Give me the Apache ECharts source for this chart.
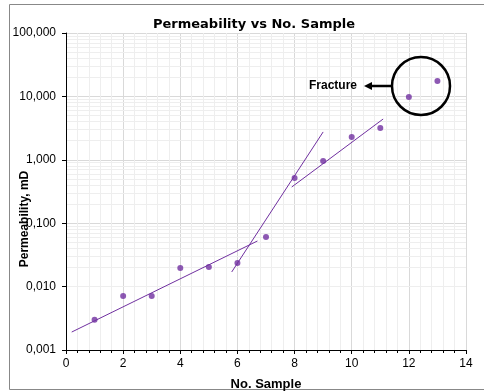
<!DOCTYPE html>
<html>
<head>
<meta charset="utf-8">
<script src="https://cdn.jsdelivr.net/npm/echarts@6/dist/echarts.min.js"></script>
<style>
  html, body { margin: 0; padding: 0; background: #fff; }
  #chart { width: 484px; height: 391px; }
</style>
</head>
<body>
<div id="chart"></div>
<script>
// sample number vs permeability (mD)
const samples = [1, 2, 3, 4, 5, 6, 7, 8, 9, 10, 11, 12, 13]
const permeability = [0.003, 0.0071, 0.0071, 0.0196, 0.0204, 0.0236, 0.0606, 0.516, 0.957, 2.29, 3.17, 9.8, 17.5]

// hand drawn trend segments (start, end)
const trendLow = [[0.2, 0.00192], [6.7, 0.0524]]
const trendMid = [[5.8, 0.017], [9.0, 2.75]]
const trendHigh = [[7.9, 0.372], [11.1, 4.4]]

// log minor grid levels (2..9 in each decade)
const minorLevels = []
for (const d of [0.001, 0.01, 0.1, 1, 10]) {
  for (let k = 2; k <= 9; k++) minorLevels.push(+(d * k).toPrecision(3))
}

const purple = "#7030a0"
const font = "Liberation Sans"

const chart = echarts.init(document.getElementById("chart"))

const option = {
  animation: false,
  backgroundColor: "#fff",
  title: {
    text: "Permeability vs No. Sample",
    left: 249,
    textAlign: "center",
    top: 13,
    textStyle: { fontFamily: "DejaVu Sans", fontSize: 13, fontWeight: "bold", color: "#000" },
  },
  grid: { left: 66, right: 18, top: 33, bottom: 41, outerBoundsMode: "none", containLabel: false },
  xAxis: {
    type: "value",
    min: 0,
    max: 14,
    interval: 2,
    name: "No. Sample",
    nameLocation: "middle",
    nameGap: 28,
    nameTextStyle: { fontFamily: font, fontSize: 13, fontWeight: "bold", color: "#000" },
    axisLine: { lineStyle: { color: "#000", width: 1 } },
    axisTick: { show: true, length: 4, lineStyle: { color: "#000" } },
    minorTick: { show: true, splitNumber: 5, length: 3, lineStyle: { color: "#000" } },
    axisLabel: { fontFamily: font, fontSize: 12, color: "#000", margin: 8 },
    splitLine: { show: true, lineStyle: { color: "#d9d9d9" } },
    minorSplitLine: { show: true, lineStyle: { color: "#eeeeee" } },
  },
  yAxis: {
    type: "log",
    logBase: 10,
    min: 0.001,
    max: 100,
    axisLine: { show: true, onZero: false, lineStyle: { color: "#000", width: 1 } },
    axisTick: { show: true, length: 4, lineStyle: { color: "#000" } },
    axisLabel: {
      fontFamily: font,
      fontSize: 12,
      color: "#000",
      margin: 10,
      formatter: (v) => v.toFixed(3).replace(".", ","),
    },
    splitLine: { show: true, lineStyle: { color: "#d9d9d9" } },
  },
  series: [
    {
      type: "line",
      data: [],
      silent: true,
      z: 0,
      markLine: {
        silent: true,
        z: 0,
        symbol: "none",
        label: { show: false },
        emphasis: { disabled: true },
        lineStyle: { color: "#eeeeee", type: "solid", width: 1 },
        data: minorLevels.map((v) => ({ yAxis: v })),
      },
    },
    ...[trendLow, trendMid, trendHigh].map((seg) => ({
      type: "line",
      data: seg,
      showSymbol: false,
      symbol: "none",
      lineStyle: { color: purple, width: 1 },
      z: 3,
    })),
    {
      type: "scatter",
      data: samples.map((s, i) => [s, permeability[i]]),
      symbolSize: 6,
      itemStyle: { color: purple },
      z: 4,
    },
  ],
  graphic: [
    {
      type: "rect",
      shape: { x: 9.5, y: 4.5, width: 480, height: 385 },
      style: { fill: "none", stroke: "#888", lineWidth: 1 },
      silent: true,
    },
    {
      type: "text",
      x: 25,
      y: 219,
      rotation: Math.PI / 2,
      style: {
        text: "Permeability, mD",
        fontFamily: font,
        fontSize: 12,
        fontWeight: "bold",
        fill: "#000",
        align: "center",
        verticalAlign: "middle",
      },
      z: 10,
    },
    {
      type: "circle",
      shape: { cx: 421, cy: 86, r: 29 },
      style: { fill: "none", stroke: "#000", lineWidth: 2.5 },
      z: 10,
    },
    {
      type: "line",
      shape: { x1: 392, y1: 86, x2: 370, y2: 86 },
      style: { stroke: "#000", lineWidth: 2.5 },
      z: 10,
    },
    {
      type: "polygon",
      shape: { points: [[364, 86], [372, 82], [372, 90]] },
      style: { fill: "#000" },
      z: 10,
    },
    {
      type: "text",
      x: 357,
      y: 86,
      style: {
        text: "Fracture",
        fontFamily: font,
        fontSize: 12,
        fontWeight: "bold",
        fill: "#000",
        align: "right",
        verticalAlign: "middle",
      },
      z: 10,
    },
  ],
}

chart.setOption(option)
</script>
</body>
</html>
